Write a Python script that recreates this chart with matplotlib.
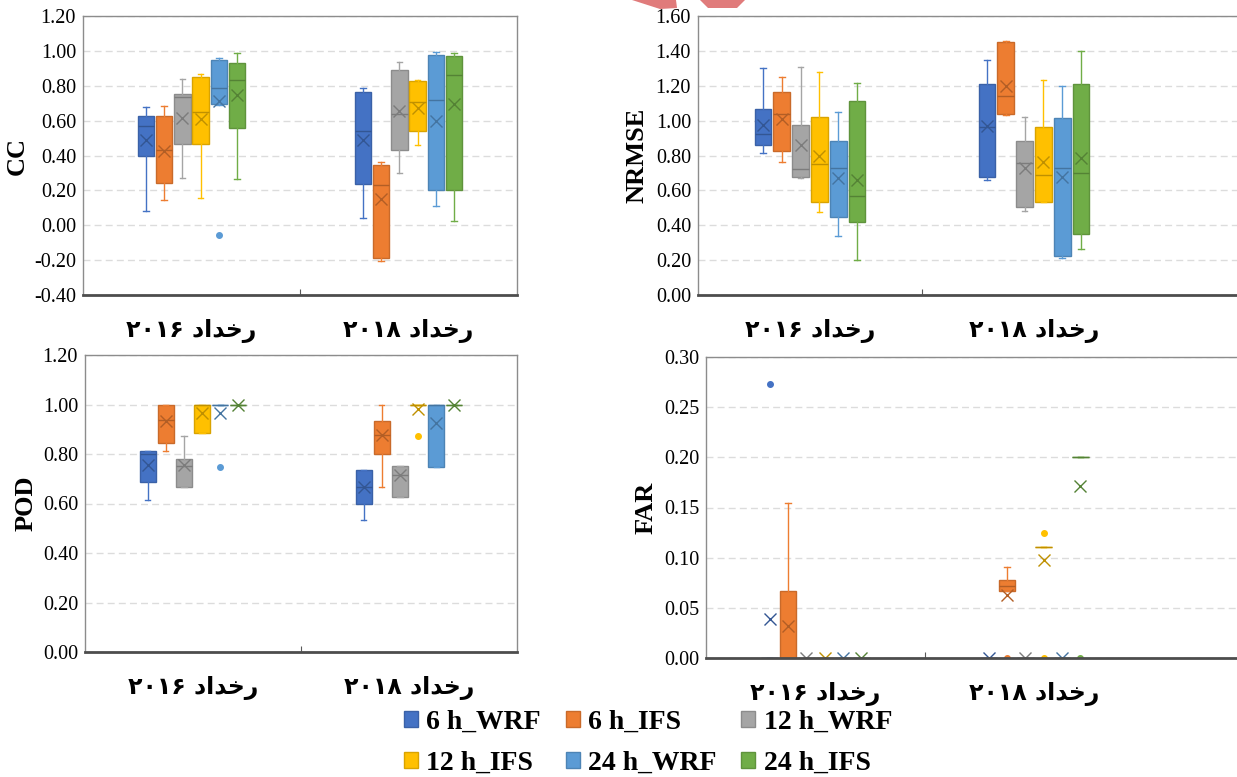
import matplotlib
matplotlib.use("Agg")
import matplotlib.pyplot as plt
import matplotlib.colors as mcolors
from matplotlib.patches import Patch, Polygon

series = ["6 h_WRF", "6 h_IFS", "12 h_WRF", "12 h_IFS", "24 h_WRF", "24 h_IFS"]
colors = ["#4472C4", "#ED7D31", "#A5A5A5", "#FFC000", "#5B9BD5", "#70AD47"]

# rows: whislo, q1, med, q3, whishi, mean  (one row per series)
cc_2016 = [(0.08, 0.40, 0.571, 0.627, 0.68, 0.49),
           (0.144, 0.242, 0.43, 0.627, 0.685, 0.427),
           (0.273, 0.465, 0.733, 0.752, 0.84, 0.617),
           (0.156, 0.465, 0.652, 0.852, 0.865, 0.61),
           (0.69, 0.698, 0.787, 0.95, 0.958, 0.715),
           (0.263, 0.56, 0.833, 0.931, 0.985, 0.748)]
cc_2018 = [(0.044, 0.235, 0.542, 0.762, 0.788, 0.49),
           (-0.206, -0.188, 0.233, 0.344, 0.36, 0.152),
           (0.30, 0.429, 0.637, 0.892, 0.935, 0.656),
           (0.463, 0.542, 0.704, 0.829, 0.835, 0.675),
           (0.112, 0.20, 0.717, 0.979, 0.992, 0.60),
           (0.025, 0.20, 0.863, 0.973, 0.985, 0.694)]
cc_2016_out = [[], [], [], [], [-0.054], []]
cc_2018_out = [[], [], [], [], [], []]

nrmse_2016 = [(0.816, 0.862, 0.923, 1.065, 1.299, 0.977),
              (0.761, 0.828, 1.036, 1.163, 1.251, 1.01),
              (0.672, 0.678, 0.722, 0.975, 1.307, 0.858),
              (0.475, 0.533, 0.753, 1.021, 1.276, 0.80),
              (0.341, 0.446, 0.73, 0.881, 1.05, 0.67),
              (0.201, 0.42, 0.565, 1.111, 1.218, 0.659)]
nrmse_2018 = [(0.659, 0.678, 0.962, 1.209, 1.349, 0.969),
              (1.034, 1.038, 1.142, 1.45, 1.454, 1.199),
              (0.481, 0.506, 0.755, 0.881, 1.021, 0.726),
              (0.533, 0.536, 0.686, 0.962, 1.232, 0.762),
              (0.211, 0.226, 0.73, 1.013, 1.201, 0.678),
              (0.262, 0.349, 0.701, 1.209, 1.40, 0.784)]
nrmse_2016_out = [[], [], [], [], [], []]
nrmse_2018_out = [[], [], [], [], [], []]

pod_2016 = [(0.615, 0.687, 0.80, 0.813, 0.813, 0.754),
            (0.812, 0.844, 0.937, 1.0, 1.0, 0.933),
            (0.667, 0.667, 0.75, 0.78, 0.874, 0.757),
            (0.885, 0.885, 1.0, 1.0, 1.0, 0.967),
            (1.0, 1.0, 1.0, 1.0, 1.0, 0.964),
            (1.0, 1.0, 1.0, 1.0, 1.0, 1.0)]
pod_2018 = [(0.533, 0.599, 0.667, 0.734, 0.734, 0.668),
            (0.667, 0.80, 0.875, 0.933, 1.0, 0.875),
            (0.625, 0.625, 0.714, 0.75, 0.75, 0.715),
            (1.0, 1.0, 1.0, 1.0, 1.0, 0.98),
            (0.749, 0.749, 1.0, 1.0, 1.0, 0.927),
            (1.0, 1.0, 1.0, 1.0, 1.0, 1.0)]
pod_2016_out = [[], [], [], [], [0.749], []]
pod_2018_out = [[], [], [], [0.874], [], []]

far_2016 = [(0.0, 0.0, 0.0, 0.0, 0.0, 0.039),
            (0.0, 0.0, 0.0, 0.0667, 0.154, 0.0317),
            (0.0, 0.0, 0.0, 0.0, 0.0, 0.0),
            (0.0, 0.0, 0.0, 0.0, 0.0, 0.0),
            (0.0, 0.0, 0.0, 0.0, 0.0, 0.0),
            (0.0, 0.0, 0.0, 0.0, 0.0, 0.0)]
far_2018 = [(0.0, 0.0, 0.0, 0.0, 0.0, 0.0),
            (0.0667, 0.0667, 0.0714, 0.0773, 0.0907, 0.0627),
            (0.0, 0.0, 0.0, 0.0, 0.0, 0.0),
            (0.111, 0.111, 0.111, 0.111, 0.111, 0.0973),
            (0.0, 0.0, 0.0, 0.0, 0.0, 0.0),
            (0.20, 0.20, 0.20, 0.20, 0.20, 0.1717)]
far_2016_out = [[0.273], [], [], [], [], []]
far_2018_out = [[], [0.0], [], [0.125, 0.0], [], [0.0]]

# visual-order Arabic presentation forms: "رخداد ۲۰۱۶" / "رخداد ۲۰۱۸"
word = "\uFEA9\uFE8D\uFEAA\uFEA7\uFEAD"
cat_labels = ["\u06F2\u06F0\u06F1\u06F6 " + word, "\u06F2\u06F0\u06F1\u06F8 " + word]

W, H = 1237, 777
fig = plt.figure(figsize=(W / 100, H / 100), dpi=100)

SERIF = "Liberation Serif"


def dark(c, f=0.7):
    r, g, b = mcolors.to_rgb(c)
    return (r * f, g * f, b * f)


def panel(left, top, bottom, unit, right, data_a, data_b, out_a, out_b,
          ylim, ystep, ylabel, ylab_x):
    ax = fig.add_axes([left / W, 1 - bottom / H, (right - left) / W, (bottom - top) / H])
    ax.set_xlim(0, (right - left) / unit)
    ax.set_ylim(*ylim)
    pitch, bw = 0.084, 0.075
    for i, col in enumerate(colors):
        stats = []
        for rows, outs in ((data_a, out_a), (data_b, out_b)):
            lo, q1, med, q3, hi, mean = rows[i]
            stats.append(dict(whislo=lo, q1=q1, med=med, q3=q3, whishi=hi,
                              mean=mean, fliers=outs[i]))
        pos = [0.5 + (i - 2.5) * pitch, 1.5 + (i - 2.5) * pitch]
        ax.bxp(stats, positions=pos, widths=bw, patch_artist=True,
               showmeans=True, capwidths=0.025, manage_ticks=False,
               boxprops=dict(facecolor=col, edgecolor=dark(col, 0.85), lw=1),
               whiskerprops=dict(color=col, lw=1),
               capprops=dict(color=col, lw=1),
               medianprops=dict(color=dark(col, 0.75), lw=1),
               meanprops=dict(marker="x", markersize=9, markeredgecolor=dark(col, 0.75),
                              markeredgewidth=1),
               flierprops=dict(marker="o", markersize=4, markerfacecolor=col,
                               markeredgecolor=col))
    ticks = []
    v = ylim[0]
    while v <= ylim[1] + 1e-9:
        ticks.append(round(v, 4))
        v += ystep
    ax.set_yticks(ticks)
    ax.set_yticklabels(["%.2f" % t for t in ticks], family=SERIF, fontsize=14.5)
    ax.tick_params(axis="y", length=0, pad=5)
    ax.yaxis.grid(True, color="#dcdcdc", lw=1, ls=(0, (5, 3)))
    ax.set_axisbelow(True)
    ax.set_xticks([1])
    ax.set_xticklabels([])
    ax.tick_params(axis="x", which="major", direction="in", length=4, color="#595959")
    ax.set_xticks([0.5, 1.5], minor=True)
    ax.set_xticklabels(cat_labels, minor=True, family=["DejaVu Sans"],
                       fontweight="bold", fontsize=17)
    ax.tick_params(axis="x", which="minor", length=0, pad=17)
    for s in ("top", "right", "left"):
        ax.spines[s].set_color("#8c8c8c")
        ax.spines[s].set_linewidth(1)
    ax.spines["bottom"].set_color("#4d4d4d")
    ax.spines["bottom"].set_linewidth(2)
    ax.set_ylabel(ylabel, family=SERIF, fontweight="bold", fontsize=19)
    ax.yaxis.set_label_coords((ylab_x - left) / (right - left), 0.5)
    return ax


panel(83, 16, 295, 217, 517, cc_2016, cc_2018, cc_2016_out, cc_2018_out,
      (-0.4, 1.2), 0.2, "CC", 29)
panel(698, 16, 295, 224, 1250, nrmse_2016, nrmse_2018, nrmse_2016_out, nrmse_2018_out,
      (0.0, 1.6), 0.2, "NRMSE", 648)
panel(85, 355, 652, 216, 517, pod_2016, pod_2018, pod_2016_out, pod_2018_out,
      (0.0, 1.2), 0.2, "POD", 38)
panel(706, 357, 658, 219, 1250, far_2016, far_2018, far_2016_out, far_2018_out,
      (0.0, 0.3), 0.05, "FAR", 658)

order = [0, 3, 1, 4, 2, 5]
handles = [Patch(facecolor=colors[k], edgecolor=dark(colors[k], 0.85)) for k in order]
labels = [series[k] for k in order]
fig.legend(handles, labels, ncol=3, loc="center", bbox_to_anchor=(648 / W, 1 - 743 / H),
           frameon=False, prop=dict(family=SERIF, weight="bold", size=20),
           handlelength=0.5, handleheight=0.5, handletextpad=0.3,
           columnspacing=0.9, labelspacing=0.58, borderpad=0.1)

# cropped red logo piece at the top edge
for pts in ([(632, 0), (676, 0), (677, 8), (660, 9)],
            [(700, 0), (745, 0), (737, 8), (708, 8)]):
    fig.patches.append(Polygon([(x / W, 1 - y / H) for x, y in pts], closed=True,
                               transform=fig.transFigure, facecolor="#e07b7b",
                               edgecolor="none"))

fig.savefig("out.png", dpi=100)
